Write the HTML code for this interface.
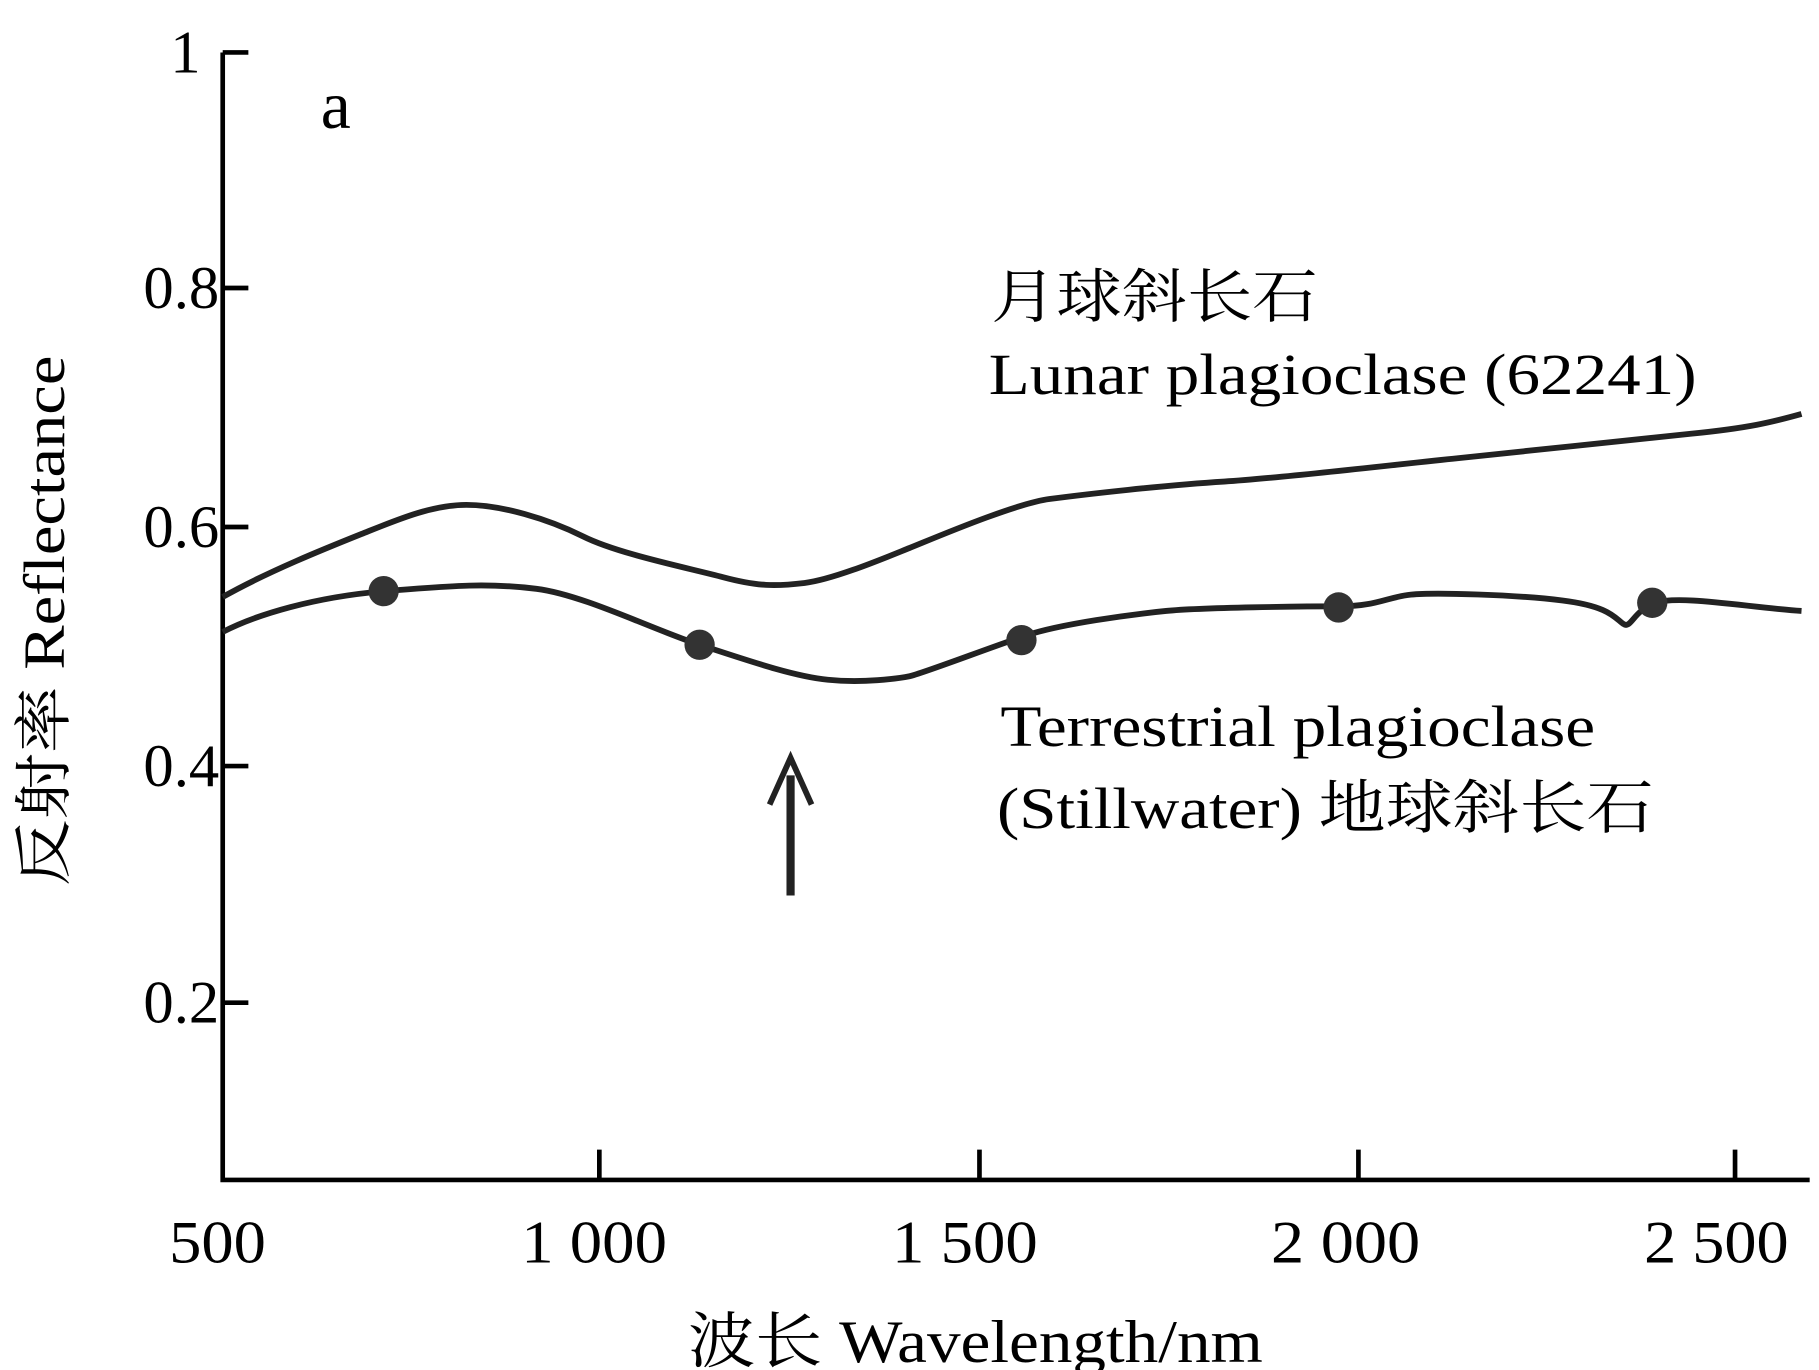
<!DOCTYPE html>
<html><head><style>html,body{margin:0;padding:0;background:#fff}svg{display:block}</style></head>
<body>
<svg width="1819" height="1370" viewBox="0 0 1560 1175" preserveAspectRatio="none" xmlns="http://www.w3.org/2000/svg">
<rect width="1560" height="1175" fill="#fff"/>
<g stroke="#000" stroke-width="4" fill="none">
<path d="M191,45 V1012 H1552"/>
<path d="M191,45 h22 M191,247 h22 M191,452 h22 M191,657 h22 M191,860 h22"/>
<path d="M514,1012 v-26 M840,1012 v-26 M1165,1012 v-26 M1488,1012 v-26"/>
</g>
<g font-family="Liberation Serif, serif" font-size="52" fill="#000" text-anchor="end">
<text x="172" y="62">1</text>
<text x="188" y="264">0.8</text>
<text x="188" y="469">0.6</text>
<text x="188" y="674">0.4</text>
<text x="188" y="877">0.2</text>
</g>
<g font-family="Liberation Serif, serif" font-size="52" fill="#000">
<text x="145" y="1083" textLength="83" lengthAdjust="spacingAndGlyphs">500</text>
<text x="447" y="1083" textLength="125" lengthAdjust="spacingAndGlyphs">1 000</text>
<text x="765" y="1083" textLength="125" lengthAdjust="spacingAndGlyphs">1 500</text>
<text x="1090" y="1083" textLength="128" lengthAdjust="spacingAndGlyphs">2 000</text>
<text x="1410" y="1083" textLength="124" lengthAdjust="spacingAndGlyphs">2 500</text>
<text x="590" y="1168" textLength="493" lengthAdjust="spacingAndGlyphs" font-family="Liberation Serif, 'Noto Serif CJK SC', serif">波长 Wavelength/nm</text>
</g>
<text x="288" y="110" font-family="Liberation Serif, serif" font-size="58" text-anchor="middle">a</text>
<text transform="translate(55,760) rotate(-90)" font-family="Liberation Serif, 'Noto Serif CJK SC', serif" font-size="50" textLength="455" lengthAdjust="spacingAndGlyphs">反射率 Reflectance</text>
<g font-family="Liberation Serif, 'Noto Serif CJK SC', serif" font-size="50" fill="#000" lengthAdjust="spacingAndGlyphs">
<text x="850" y="272" textLength="280" lengthAdjust="spacingAndGlyphs">月球斜长石</text>
<text x="848" y="338" textLength="607" lengthAdjust="spacingAndGlyphs">Lunar plagioclase (62241)</text>
<text x="858" y="640" textLength="510" lengthAdjust="spacingAndGlyphs">Terrestrial plagioclase</text>
<text x="855" y="710" textLength="563" lengthAdjust="spacingAndGlyphs">(Stillwater) 地球斜长石</text>
</g>
<g stroke="#222" stroke-width="5" fill="none" stroke-linejoin="round">
<path d="M191,512 C230,490 280,470 310,458 S370,433 400,433 S470,445 500,460 S590,487 620,495 S665,503 690,500 S760,478 780,470 S870,432 900,428 S1000,416 1050,413 S1200,398 1250,393 S1400,377 1450,372 S1520,362 1545,355"/>
<path d="M191,542 C220,527 270,512 330,507 S420,500 460,505 S560,540 600,553 S680,580 710,583 S770,582 780,580 S850,555 880,545 S970,527 1000,524 S1120,520 1150,520 S1190,512 1210,510 S1300,510 1340,515 S1385,530 1392,535 S1400,524 1420,517 S1500,521 1545,524"/>
</g>
<g fill="#333">
<circle cx="329" cy="507" r="13"/><circle cx="600" cy="553" r="13"/><circle cx="876" cy="549" r="13"/><circle cx="1148" cy="521" r="13"/><circle cx="1417" cy="517" r="13"/>
</g>
<path d="M678,768 V665" stroke="#222" stroke-width="7"/>
<path d="M660,690 L678,650 L696,690" stroke="#222" stroke-width="5" fill="none"/>
</svg>
</body></html>
